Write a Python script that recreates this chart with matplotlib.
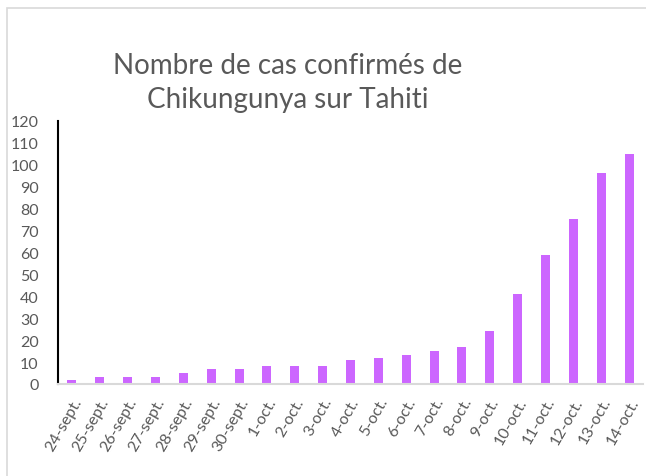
import numpy as np
import matplotlib.pyplot as plt
from matplotlib.patches import Rectangle

plt.rcParams['font.family'] = ['Lato', 'DejaVu Sans']

# dates and confirmed case counts
dates = ['24-sept.', '25-sept.', '26-sept.', '27-sept.', '28-sept.', '29-sept.', '30-sept.',
         '1-oct.', '2-oct.', '3-oct.', '4-oct.', '5-oct.', '6-oct.', '7-oct.', '8-oct.',
         '9-oct.', '10-oct.', '11-oct.', '12-oct.', '13-oct.', '14-oct.']
cases = [2, 3, 3, 3, 5, 7, 7, 8, 8, 8, 11, 12, 13, 15, 17, 24, 41, 59, 75, 96, 105]
yticks = list(range(0, 121, 10))

W, H = 646, 477
fig = plt.figure(figsize=(W / 100, H / 100), dpi=100)

# light gray chart border
fig.patches.append(Rectangle((7 / W, -0.1), 1.2, 1 - 9 / H + 0.1, transform=fig.transFigure,
                             fill=False, edgecolor='#D9D9D9', linewidth=1.2))

ax = fig.add_axes([58 / W, 1 - 385 / H, 585 / W, (385 - 121.7) / H])
x = np.arange(len(dates))
ax.bar(x, cases, width=0.32, color='#CC66FF')

ax.set_xlim(-0.5, len(dates) - 0.5)
ax.set_ylim(0, 120)
ax.set_yticks(yticks)
ax.set_xticks(x)
ax.set_xticklabels(dates, rotation=60, ha='right', rotation_mode='anchor')

ax.tick_params(axis='y', length=0, pad=14, labelsize=11.5, labelcolor='#595959')
ax.tick_params(axis='x', length=0, pad=8, labelsize=11.5, labelcolor='#595959')

for s in ['top', 'right']:
    ax.spines[s].set_visible(False)
ax.spines['left'].set_color('black')
ax.spines['left'].set_linewidth(1.5)
ax.spines['bottom'].set_color('#D9D9D9')
ax.spines['bottom'].set_linewidth(1.5)

fig.text(288 / W, 1 - 83 / H, 'Nombre de cas confirmés de\nChikungunya sur Tahiti',
         ha='center', va='center', fontsize=20, color='#595959', linespacing=1.4)

fig.savefig('out.png', dpi=100)
